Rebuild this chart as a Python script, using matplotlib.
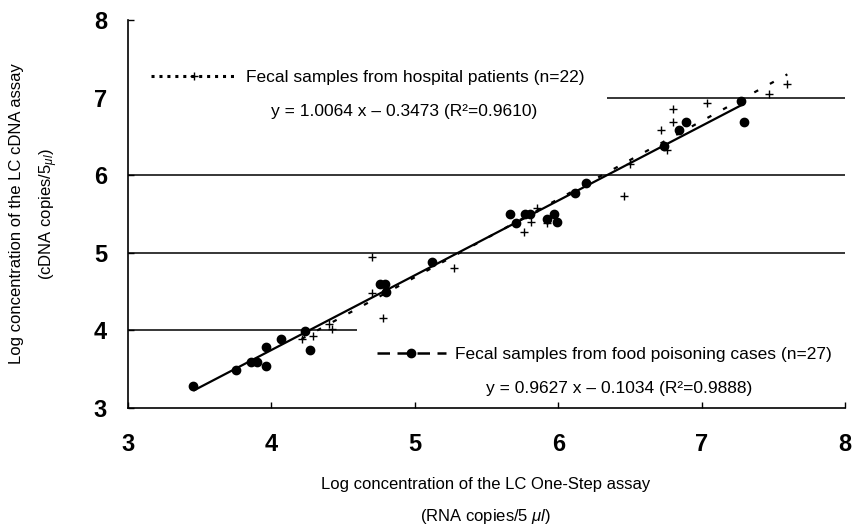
import numpy as np
import matplotlib
matplotlib.use("Agg")
import matplotlib.pyplot as plt
from matplotlib.lines import Line2D

plt.rcParams["font.family"] = ["Liberation Sans", "DejaVu Sans"]
plt.rcParams["mathtext.fontset"] = "custom"
plt.rcParams["mathtext.rm"] = "Liberation Sans"
plt.rcParams["mathtext.it"] = "Liberation Sans:italic"

# Fecal samples from food poisoning cases (n=27): (One-Step, cDNA) log copies
food_x = [3.455, 3.753, 3.86, 3.90, 3.96, 3.96, 4.07, 4.234, 4.27,
          4.76, 4.79, 4.80, 5.12, 5.664, 5.706, 5.77, 5.80, 5.92, 5.97,
          5.99, 6.117, 6.194, 6.738, 6.842, 6.889, 7.273, 7.296]
food_y = [3.287, 3.49, 3.59, 3.59, 3.545, 3.79, 3.885, 3.99, 3.75,
          4.60, 4.60, 4.50, 4.88, 5.496, 5.388, 5.50, 5.50, 5.43, 5.50,
          5.40, 5.775, 5.895, 6.376, 6.58, 6.686, 6.96, 6.68]

# Fecal samples from hospital patients (n=22)
hosp_x = [4.21, 4.29, 4.40, 4.42, 4.70, 4.70, 4.78, 5.27, 5.855, 5.81,
          5.764, 5.92, 6.46, 6.50, 6.757, 6.717, 6.803, 6.803, 7.035,
          7.472, 7.598]
hosp_y = [3.885, 3.93, 4.08, 4.02, 4.95, 4.48, 4.16, 4.80, 5.58, 5.40,
          5.27, 5.38, 5.73, 6.14, 6.33, 6.58, 6.68, 6.85, 6.935,
          7.05, 7.18]

# Regression fits: slope, intercept, R^2
food_fit = (0.9627, -0.1034, 0.9888)
hosp_fit = (1.0064, -0.3473, 0.9610)

x_ticks = [3, 4, 5, 6, 7, 8]
y_ticks = [3, 4, 5, 6, 7, 8]
grid_levels = [4, 5, 6, 7]

fig = plt.figure(figsize=(8.54, 5.28), dpi=100)
ax = fig.add_axes([128 / 854, 1 - 408 / 528, 717 / 854, 388 / 528])
ax.set_xlim(3, 8)
ax.set_ylim(3, 8)

for lvl in grid_levels:
    ax.axhline(lvl, color="black", lw=1.1, zorder=1)

# fitted lines over each series' range
fx = np.linspace(min(food_x), max(food_x), 50)
ax.plot(fx, food_fit[0] * fx + food_fit[1], color="black", lw=1.6,
        solid_capstyle="butt", zorder=4)
hx = np.linspace(min(hosp_x), max(hosp_x), 50)
ax.plot(hx, hosp_fit[0] * hx + hosp_fit[1], color="black", lw=1.6,
        ls=(0, (2, 6)), zorder=4)

ax.plot(food_x, food_y, "o", color="black", ms=6, zorder=5)
ax.plot(hosp_x, hosp_y, "+", color="black", ms=6, mew=1.0, zorder=5)

for s in ["top", "right"]:
    ax.spines[s].set_visible(False)
ax.spines["left"].set_linewidth(1.2)
ax.spines["bottom"].set_linewidth(1.2)
ax.set_xticks(x_ticks)
ax.set_yticks(y_ticks)
ax.tick_params(direction="in", length=4, width=1)
ax.tick_params(axis="x", pad=18)
ax.tick_params(axis="y", pad=15)
for lab in ax.get_xticklabels() + ax.get_yticklabels():
    lab.set_fontsize(17)
    lab.set_fontweight("bold")

# series keys on white backing (below the spines, above the grid)
h_hosp = Line2D([], [], color="black", lw=2.2, ls=(0, (1, 1.6)), marker="+",
                ms=6, mew=1.0)
h_food = Line2D([], [], color="black", lw=1.8, ls=(0, (5, 3)), marker="o",
                ms=6)

leg1 = ax.legend([h_hosp], ["Fecal samples from hospital patients (n=22)"],
                 loc="upper left", bbox_to_anchor=(0.0, 0.93),
                 frameon=True, facecolor="white", edgecolor="none",
                 framealpha=1, fancybox=False, fontsize=12.5,
                 handlelength=5, handletextpad=0.5, borderpad=1.3,
                 borderaxespad=0)
leg1.set_zorder(2)
ax.add_artist(leg1)

leg2 = ax.legend([h_food], ["Fecal samples from food poisoning cases (n=27)"],
                 loc="upper left", bbox_to_anchor=(0.32, 0.207),
                 frameon=True, facecolor="white", edgecolor="none",
                 framealpha=1, fancybox=False, fontsize=12.5,
                 handlelength=4, handletextpad=0.5, borderpad=1.1,
                 borderaxespad=0)
leg2.set_zorder(2)

ax.text(0.385, 0.765,
        f"y = {hosp_fit[0]:.4f} x – {abs(hosp_fit[1]):.4f} (R²={hosp_fit[2]:.4f})",
        transform=ax.transAxes, ha="center", va="center", fontsize=12.5,
        zorder=3)
ax.text(0.685, 0.05,
        f"y = {food_fit[0]:.4f} x – {abs(food_fit[1]):.4f} (R²={food_fit[2]:.4f})",
        transform=ax.transAxes, ha="center", va="center", fontsize=12.5,
        zorder=3)

# axis titles
fig.text(486 / 854, 1 - 485 / 528, "Log concentration of the LC One-Step assay",
         ha="center", va="center", fontsize=12)
fig.text(486 / 854, 1 - 517 / 528, r"(RNA copies/5 $\mu l$)",
         ha="center", va="center", fontsize=12)
fig.text(17 / 854, 1 - 214 / 528, "Log concentration of the LC cDNA assay",
         ha="center", va="center", rotation=90, fontsize=12)
fig.text(49 / 854, 1 - 214 / 528, r"(cDNA copies/5$_{\mu l}$)",
         ha="center", va="center", rotation=90, fontsize=12)

fig.savefig("out.png", dpi=100)
